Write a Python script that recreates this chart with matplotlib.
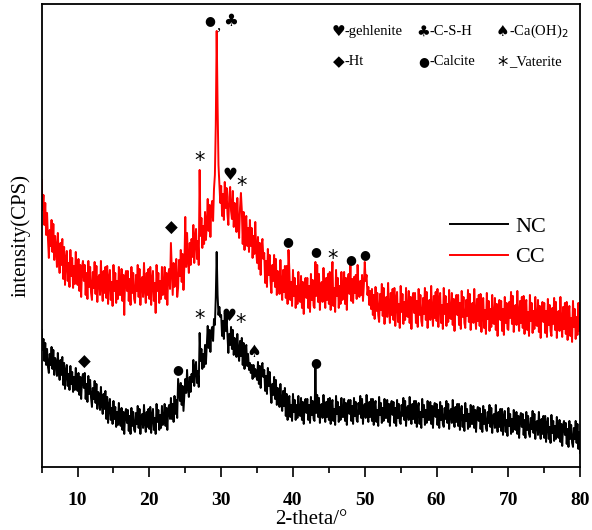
import numpy as np
import matplotlib
matplotlib.use("Agg")
import matplotlib.pyplot as plt

# NC intensity (arbitrary units), 8 values per degree (0.125 deg step) from 5 to 80
nc = [
    135, 115, 126, 104, 122, 100, 116, 98,
    92, 111, 100, 118, 96, 115, 90, 107,
    103, 89, 112, 94, 85, 105, 90, 108,
    80, 102, 76, 94, 100, 79, 91, 75,
    99, 81, 93, 73, 88, 75, 97, 78,
    74, 92, 70, 88, 66, 87, 91, 77,
    92, 66, 81, 63, 89, 71, 85, 67,
    58, 77, 66, 84, 62, 81, 56, 73,
    69, 55, 78, 60, 51, 71, 56, 74,
    46, 68, 42, 60, 66, 45, 57, 41,
    64, 46, 58, 38, 53, 40, 62, 43,
    39, 57, 35, 53, 31, 52, 56, 42,
    55, 34, 49, 31, 57, 39, 53, 35,
    33, 52, 41, 59, 37, 56, 31, 48,
    51, 37, 60, 42, 33, 53, 38, 56,
    36, 58, 32, 50, 56, 35, 47, 31,
    61, 43, 55, 35, 50, 37, 59, 40,
    43, 61, 39, 57, 35, 56, 60, 46,
    67, 46, 61, 43, 69, 51, 65, 47,
    86, 75, 64, 82, 60, 79, 54, 71,
    86, 72, 95, 77, 68, 88, 73, 91,
    83, 105, 79, 97, 103, 82, 94, 78,
    132, 104, 116, 96, 111, 98, 120, 101,
    121, 139, 117, 135, 113, 134, 138, 124,
    146, 140, 168, 213, 170, 150, 158, 148,
    150, 129, 144, 126, 152, 134, 148, 130,
    112, 131, 120, 138, 116, 135, 110, 127,
    122, 108, 131, 113, 104, 124, 109, 127,
    100, 122, 96, 114, 120, 99, 111, 95,
    102, 92, 100, 86, 100, 88, 96, 90,
    85, 103, 81, 99, 77, 98, 102, 88,
    95, 74, 89, 71, 97, 79, 93, 75,
    62, 81, 70, 88, 66, 85, 60, 77,
    72, 58, 81, 63, 54, 74, 59, 77,
    49, 71, 45, 63, 69, 48, 60, 44,
    71, 53, 65, 45, 60, 47, 69, 50,
    49, 67, 45, 63, 41, 62, 66, 52,
    66, 45, 60, 42, 68, 50, 64, 46,
    44, 100, 52, 70, 48, 67, 42, 59,
    61, 47, 70, 52, 43, 63, 48, 66,
    45, 67, 41, 59, 65, 44, 56, 40,
    69, 51, 63, 43, 58, 45, 67, 48,
    48, 66, 44, 62, 40, 61, 65, 51,
    65, 44, 59, 41, 67, 49, 63, 45,
    43, 62, 51, 69, 47, 66, 41, 58,
    61, 47, 70, 52, 43, 63, 48, 66,
    44, 66, 40, 58, 64, 43, 55, 39,
    68, 50, 62, 42, 57, 44, 66, 47,
    47, 65, 43, 61, 39, 60, 64, 50,
    63, 42, 57, 39, 65, 47, 61, 43,
    41, 60, 49, 67, 45, 64, 39, 56,
    59, 45, 68, 50, 41, 61, 46, 64,
    42, 64, 38, 56, 62, 41, 53, 37,
    66, 48, 60, 40, 55, 42, 64, 45,
    45, 63, 41, 59, 37, 58, 62, 48,
    61, 40, 55, 37, 63, 45, 59, 41,
    38, 57, 46, 64, 42, 61, 36, 53,
    56, 42, 65, 47, 38, 58, 43, 61,
    39, 61, 35, 53, 59, 38, 50, 34,
    62, 44, 56, 36, 51, 38, 60, 41,
    41, 59, 37, 55, 33, 54, 58, 44,
    57, 36, 51, 33, 59, 41, 55, 37,
    34, 53, 42, 60, 38, 57, 32, 49,
    51, 37, 60, 42, 33, 53, 38, 56,
    34, 56, 30, 48, 54, 33, 45, 29,
    57, 39, 51, 31, 46, 33, 55, 36,
    35, 53, 31, 49, 27, 48, 52, 38,
    51, 30, 45, 27, 53, 35, 49, 31,
    28, 47, 36, 54, 32, 51, 26, 43,
    44, 30, 53, 35, 26, 46, 31, 49,
    27, 49, 23, 41, 47, 26, 38, 22,
    50, 32, 44, 24, 39, 26, 48, 29,
    27, 45, 23, 41, 19, 40, 44, 30,
    42, 21, 36, 18, 44, 26, 40, 22,
    18, 37, 26, 44, 22, 41, 16, 33,
    12,
]

# CC intensity (arbitrary units), 8 values per degree (0.125 deg step) from 5 to 80
cc = [
    285, 255, 270, 240, 262, 230, 252, 226,
    207, 235, 219, 245, 213, 241, 205, 229,
    218, 198, 232, 206, 192, 222, 200, 226,
    186, 218, 180, 206, 214, 184, 202, 178,
    215, 189, 207, 177, 199, 181, 213, 185,
    180, 206, 174, 200, 168, 198, 204, 184,
    200, 170, 192, 166, 204, 178, 198, 172,
    165, 193, 177, 203, 171, 199, 163, 187,
    190, 170, 204, 178, 164, 194, 172, 198,
    167, 199, 161, 187, 195, 165, 183, 159,
    200, 174, 192, 162, 184, 166, 198, 170,
    170, 196, 164, 190, 150, 188, 194, 174,
    194, 164, 186, 160, 198, 172, 192, 166,
    162, 190, 174, 200, 168, 196, 160, 184,
    188, 168, 202, 176, 162, 192, 170, 196,
    166, 198, 160, 186, 194, 164, 182, 152,
    200, 174, 192, 162, 184, 166, 198, 170,
    172, 198, 166, 192, 160, 190, 196, 176,
    222, 196, 170, 202, 178, 190, 206, 168,
    177, 205, 189, 215, 183, 211, 175, 199,
    248, 198, 232, 206, 192, 222, 200, 226,
    208, 240, 202, 228, 236, 206, 224, 200,
    295, 229, 247, 217, 239, 221, 253, 225,
    240, 266, 234, 260, 228, 258, 264, 244,
    276, 290, 340, 434, 360, 300, 282, 262,
    279, 249, 271, 245, 283, 257, 277, 251,
    240, 268, 278, 254, 246, 274, 238, 262,
    253, 233, 267, 241, 227, 257, 272, 255,
    221, 253, 215, 241, 249, 219, 237, 213,
    245, 219, 237, 207, 229, 211, 243, 215,
    202, 228, 196, 222, 190, 220, 226, 206,
    212, 182, 204, 178, 216, 190, 210, 184,
    172, 200, 184, 210, 178, 206, 170, 194,
    191, 171, 205, 179, 165, 195, 173, 199,
    167, 199, 161, 215, 195, 165, 183, 159,
    195, 169, 187, 157, 179, 161, 193, 165,
    163, 189, 157, 183, 151, 181, 187, 167,
    187, 157, 179, 153, 191, 165, 185, 159,
    157, 203, 169, 200, 163, 191, 155, 179,
    183, 163, 197, 171, 157, 187, 165, 191,
    161, 193, 155, 181, 203, 159, 177, 153,
    195, 169, 187, 157, 179, 161, 193, 165,
    167, 193, 161, 187, 155, 185, 191, 171,
    200, 164, 186, 162, 188, 172, 190, 166,
    200, 176, 168, 184, 170, 190, 164, 180,
    203, 184, 190, 170, 178, 160, 174, 156,
    176, 150, 170, 146, 178, 154, 172, 150,
    143, 171, 155, 181, 149, 177, 141, 165,
    168, 148, 182, 156, 142, 172, 150, 176,
    145, 177, 139, 165, 173, 143, 161, 137,
    179, 153, 171, 141, 163, 145, 177, 149,
    148, 174, 142, 168, 136, 166, 172, 152,
    172, 142, 164, 138, 176, 150, 170, 144,
    139, 167, 151, 177, 145, 173, 137, 161,
    165, 145, 179, 153, 139, 169, 147, 173,
    144, 176, 138, 164, 172, 142, 160, 136,
    177, 151, 169, 139, 161, 143, 175, 147,
    146, 172, 140, 166, 134, 164, 170, 150,
    170, 140, 162, 136, 174, 148, 168, 142,
    137, 165, 149, 175, 143, 171, 135, 159,
    162, 142, 176, 150, 136, 166, 144, 170,
    139, 171, 133, 159, 167, 137, 155, 131,
    172, 146, 164, 134, 156, 138, 170, 142,
    141, 167, 135, 161, 129, 159, 165, 145,
    164, 134, 156, 130, 168, 142, 162, 136,
    135, 163, 147, 173, 141, 169, 133, 157,
    160, 140, 174, 148, 134, 164, 142, 168,
    137, 169, 131, 157, 165, 135, 153, 129,
    170, 144, 162, 132, 154, 136, 168, 140,
    139, 165, 133, 159, 127, 157, 163, 143,
    162, 132, 154, 128, 166, 140, 160, 134,
    129, 157, 141, 167, 135, 163, 127, 151,
    154, 134, 168, 142, 128, 158, 136, 162,
    131, 163, 125, 151, 159, 129, 147, 123,
    164, 138, 156, 126, 148, 130, 162, 134,
    140,
]

two_theta_nc = 5.0 + 0.125 * np.arange(len(nc))
two_theta_cc = 5.0 + 0.125 * np.arange(len(cc))

# phase marks: symbol, 2-theta, height
nc_mark_sym = ['\u25C6', '\u25CF', '*', '\u2665', '*', '\u2660', '\u25CF']
nc_mark_x = [10.9, 24.0, 27.0, 31.1, 32.7, 34.5, 43.1]
nc_mark_y = [103, 95, 150, 149, 146, 113, 102]

cc_mark_sym = ['\u25C6', '*', '\u25CF', ',', '\u2663', '\u2665', '*', '\u25CF', '\u25CF', '*', '\u25CF', '\u25CF']
cc_mark_x = [23.0, 27.0, 28.4, 29.6, 31.3, 31.2, 32.8, 39.3, 43.1, 45.5, 48.0, 50.0]
cc_mark_y = [237, 308, 444, 439, 444, 290, 283, 223, 213, 210, 205, 210]

key_sym = ['\u2665', '\u2663', '\u2660', '\u25C6', '\u25CF', '*']
key_txt = ['-gehlenite', '-C-S-H', '-Ca(OH)$_2$', '-Ht', '-Calcite', '_Vaterite']

series_names = ['NC', 'CC']

serif = ['Liberation Serif', 'DejaVu Serif']
symf = ['DejaVu Sans']

fig = plt.figure(figsize=(5.92, 5.30), dpi=100)
ax = fig.add_axes([0.0704, 0.119, 0.9096, 0.8735])

ax.plot(two_theta_nc, nc, color='black', lw=1.4, label=series_names[0])
ax.plot(two_theta_cc, cc, color='red', lw=1.4, label=series_names[1])

ax.set_xlim(5, 80)
ax.set_ylim(-2, 461)
ax.set_xticks(np.arange(10, 81, 10))
ax.set_xticks(np.arange(5, 81, 5), minor=True)
ax.set_yticks([])
ax.tick_params(axis='x', which='major', direction='out', length=7, width=1.2, pad=11)
ax.tick_params(axis='x', which='minor', direction='out', length=4, width=1.2)
for lab in ax.get_xticklabels():
    lab.set_family(serif)
    lab.set_fontweight('bold')
    lab.set_fontsize(14)
for sp in ax.spines.values():
    sp.set_linewidth(1.3)

ax.set_xlabel('2-theta/\u00b0', family=serif, fontsize=15, labelpad=1)
ax.set_ylabel('intensity(CPS)', family=serif, fontsize=15, labelpad=8)


def sym_size(s):
    if s == '*':
        return 15
    if s == '\u25CF':
        return 9
    return 12


def draw_marks(syms, xs, ys):
    for s, x, y in zip(syms, xs, ys):
        fam = serif if s == ',' else symf
        yy = y - 4 if s == '*' else y
        ax.text(x, yy, s, ha='center', va='center', fontsize=sym_size(s),
                family=fam, color='black')


draw_marks(nc_mark_sym, nc_mark_x, nc_mark_y)
draw_marks(cc_mark_sym, cc_mark_x, cc_mark_y)

# symbol key at top right
key_x = [0.551, 0.709, 0.856]
key_y = [0.940, 0.875]
for i, (s, t) in enumerate(zip(key_sym, key_txt)):
    r, c = divmod(i, 3)
    xx = key_x[c]
    yy = key_y[r]
    if s == '*':
        ax.text(xx, yy - 0.009, s, transform=ax.transAxes, ha='center', va='center',
                fontsize=15, family=symf)
    else:
        ax.text(xx, yy, s, transform=ax.transAxes, ha='center', va='center',
                fontsize=9 if s == '\u25CF' else 11, family=symf)
    ax.text(xx + 0.012, yy, t, transform=ax.transAxes, ha='left', va='center',
            fontsize=10.5, family=serif)

leg = ax.legend(loc='center left', bbox_to_anchor=(0.722, 0.486), frameon=False,
                handlelength=2.6, handletextpad=0.3, labelspacing=0.45,
                prop={'family': serif, 'size': 16})

fig.savefig('out.png', dpi=100)
